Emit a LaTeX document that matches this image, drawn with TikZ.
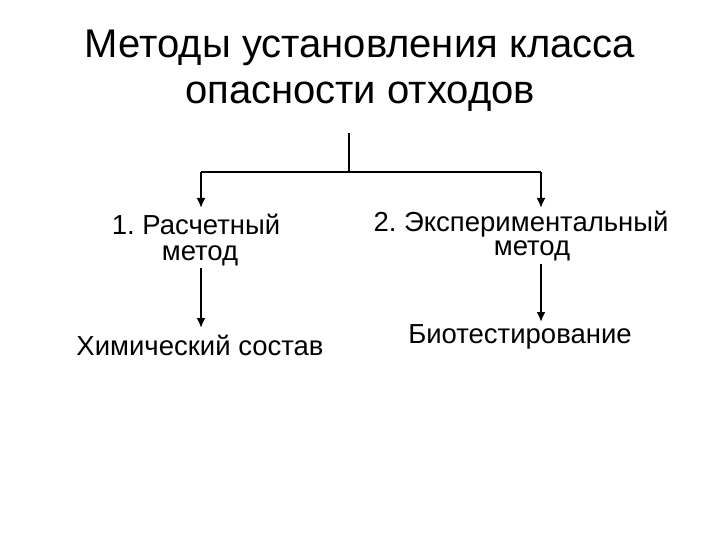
\documentclass[tikz,border=0pt]{standalone}
\usepackage{fontspec}
\setmainfont{Liberation Sans}
\usetikzlibrary{arrows.meta}
\frenchspacing
\begin{document}
\begin{tikzpicture}[x=1pt,y=-1pt,
  ln/.style={line width=2pt},
  ar/.style={line width=2pt,-{Latex[length=10pt,width=9pt]}},
  big/.style={font=\fontsize{40}{44}\selectfont,align=center},
  lbl/.style={font=\fontsize{27.5}{30}\selectfont,align=center}]
\useasboundingbox (0,0) rectangle (720,540);
\node[big] (t1) at (360,48) {Методы установления класса};
\node[big] (t2) at (360,97) {опасности отходов};
\coordinate (top) at (349,133);
\coordinate (mid) at (349,172);
\coordinate (L) at (201,172);
\coordinate (R) at (541,172);
\node[lbl] (a1) at (196,224) {\frenchspacing 1. Расчетный};
\node[lbl] (a2) at (200,256) {метод};
\node[lbl] (b1) at (521,224) {\frenchspacing 2. Экспериментальный};
\node[lbl] (b2) at (532,251) {метод};
\node[lbl] (c) at (200,345) {Химический состав};
\node[lbl] (d) at (520,337) {Биотестирование};
\coordinate (La) at (201,208);
\coordinate (Ra) at (541,208);
\draw[ln] (top) -- (mid);
\draw[ln] (L) -- (R);
\draw[ar] (L) -- (La);
\draw[ar] (R) -- (Ra);
\draw[ar] (201,268) -- (201,328);
\draw[ar] (541,264) -- (541,322);
\end{tikzpicture}
\end{document}
